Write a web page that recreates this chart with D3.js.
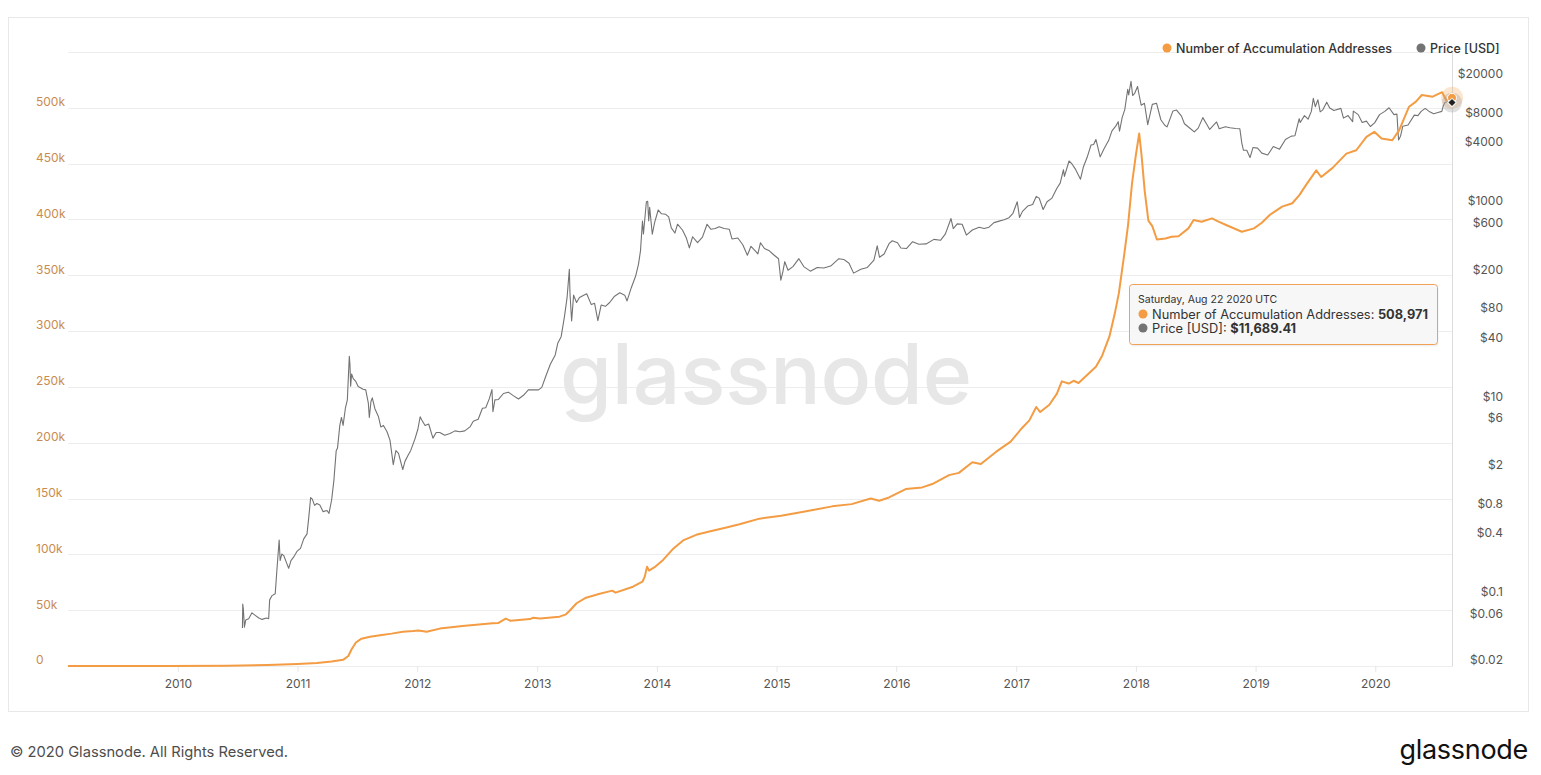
<!DOCTYPE html>
<html>
<head>
<meta charset="utf-8">
<script src="https://cdn.jsdelivr.net/npm/d3@7"></script>
<style>
  body { margin: 0; background: #fff; font-family: Inter, "Noto Sans", sans-serif; }
</style>
</head>
<body>
<div id="canvas"></div>
<script>
// number of accumulation addresses
const accumulation = [
  ["2009-01-31", 0], ["2009-12-01", 0], ["2010-06-01", 200], ["2010-10-01", 800],
  ["2011-01-01", 1800], ["2011-03-01", 2600], ["2011-04-15", 4000], ["2011-05-20", 5500],
  ["2011-06-05", 9000], ["2011-06-15", 15000], ["2011-06-28", 21000], ["2011-07-15", 24500],
  ["2011-08-10", 26200], ["2011-09-10", 27500], ["2011-10-15", 29000], ["2011-11-18", 30700],
  ["2011-12-20", 31300], ["2012-01-05", 31800], ["2012-01-30", 30600], ["2012-03-10", 33500],
  ["2012-05-18", 35800], ["2012-08-18", 38200], ["2012-09-05", 38600], ["2012-09-27", 42500],
  ["2012-10-12", 40500], ["2012-12-10", 42000], ["2012-12-20", 43200], ["2013-01-10", 42500],
  ["2013-03-10", 44200], ["2013-03-28", 46000], ["2013-04-10", 49500], ["2013-05-01", 56200],
  ["2013-05-30", 61200], ["2013-07-08", 64500], ["2013-08-18", 67500], ["2013-08-28", 65700],
  ["2013-10-20", 71000], ["2013-11-18", 75500], ["2013-11-25", 80000], ["2013-12-02", 89000],
  ["2013-12-08", 85500], ["2013-12-25", 88500], ["2014-01-20", 95000], ["2014-02-18", 104500],
  ["2014-03-22", 112500], ["2014-05-01", 117500], ["2014-06-10", 120500], ["2014-08-01", 124000],
  ["2014-09-10", 127000], ["2014-11-10", 132000], ["2015-01-15", 134500], ["2015-03-20", 138000],
  ["2015-06-20", 143000], ["2015-08-18", 145000], ["2015-10-15", 150000], ["2015-11-10", 148000],
  ["2015-12-10", 151000], ["2016-01-30", 158500], ["2016-03-20", 160000], ["2016-04-20", 163000],
  ["2016-06-10", 171000], ["2016-07-10", 173000], ["2016-08-20", 182500], ["2016-09-15", 181000],
  ["2016-11-01", 192000], ["2016-12-15", 201000], ["2017-01-18", 213000], ["2017-02-10", 220000],
  ["2017-03-03", 232000], ["2017-03-15", 227500], ["2017-04-12", 234000], ["2017-05-05", 244000],
  ["2017-05-20", 255000], ["2017-06-10", 253000], ["2017-06-25", 255500], ["2017-07-10", 253500],
  ["2017-08-10", 262000], ["2017-09-01", 268000], ["2017-09-20", 278000], ["2017-10-12", 295000],
  ["2017-10-28", 315000], ["2017-11-10", 334000], ["2017-11-27", 370000], ["2017-12-08", 395000],
  ["2017-12-20", 432000], ["2018-01-01", 458000], ["2018-01-11", 477000], ["2018-01-18", 458000],
  ["2018-01-28", 425000], ["2018-02-08", 399000], ["2018-02-20", 394000], ["2018-03-06", 382000],
  ["2018-04-01", 383000], ["2018-04-20", 384500], ["2018-05-11", 385000], ["2018-06-10", 392000],
  ["2018-06-26", 399500], ["2018-07-20", 398000], ["2018-08-21", 401000], ["2018-09-10", 398000],
  ["2018-10-03", 395000], ["2018-11-20", 389000], ["2018-12-27", 392000], ["2019-01-20", 397000],
  ["2019-02-13", 404000], ["2019-03-23", 411500], ["2019-04-23", 414500], ["2019-05-15", 422000],
  ["2019-06-04", 431000], ["2019-07-05", 444000], ["2019-07-20", 438000], ["2019-08-23", 446000],
  ["2019-10-05", 459000], ["2019-11-04", 462000], ["2019-12-05", 474000], ["2019-12-29", 478500],
  ["2020-01-20", 472500], ["2020-02-22", 471000], ["2020-03-14", 480000], ["2020-04-13", 501000],
  ["2020-05-04", 505500], ["2020-05-22", 511500], ["2020-06-24", 510000], ["2020-07-23", 514000],
  ["2020-08-04", 507000], ["2020-08-22", 508971]
];

// BTC price in USD
const price = [
  ["2010-07-17", 0.049], ["2010-07-18", 0.086], ["2010-07-20", 0.075], ["2010-07-23", 0.05],
  ["2010-07-27", 0.059], ["2010-08-05", 0.061], ["2010-08-15", 0.07], ["2010-08-25", 0.066],
  ["2010-09-05", 0.062], ["2010-09-15", 0.06], ["2010-09-28", 0.062], ["2010-10-05", 0.061],
  ["2010-10-08", 0.095], ["2010-10-15", 0.105], ["2010-10-25", 0.11], ["2010-10-30", 0.19],
  ["2010-11-06", 0.39], ["2010-11-09", 0.24], ["2010-11-14", 0.28], ["2010-11-20", 0.27],
  ["2010-11-28", 0.23], ["2010-12-05", 0.20], ["2010-12-12", 0.24], ["2010-12-20", 0.26],
  ["2010-12-31", 0.30], ["2011-01-10", 0.32], ["2011-01-20", 0.40], ["2011-01-30", 0.45],
  ["2011-02-05", 0.70], ["2011-02-10", 1.06], ["2011-02-15", 1.02], ["2011-02-22", 0.88],
  ["2011-03-01", 0.92], ["2011-03-10", 0.89], ["2011-03-20", 0.76], ["2011-04-01", 0.78],
  ["2011-04-07", 0.73], ["2011-04-15", 1.0], ["2011-04-22", 1.6], ["2011-04-29", 3.2],
  ["2011-05-03", 3.4], ["2011-05-10", 5.8], ["2011-05-15", 7.0], ["2011-05-20", 5.8],
  ["2011-05-27", 8.7], ["2011-06-02", 10.6], ["2011-06-05", 18], ["2011-06-08", 29.6],
  ["2011-06-10", 24], ["2011-06-12", 14.6], ["2011-06-15", 19.5], ["2011-06-20", 17.5],
  ["2011-06-27", 16.5], ["2011-07-05", 14.5], ["2011-07-12", 14.1], ["2011-07-20", 13.6],
  ["2011-07-28", 13.4], ["2011-08-05", 9.8], ["2011-08-08", 7.0], ["2011-08-13", 10.2],
  ["2011-08-17", 11.1], ["2011-08-25", 8.6], ["2011-09-05", 7.1], ["2011-09-12", 5.6],
  ["2011-09-20", 5.8], ["2011-10-01", 5.0], ["2011-10-10", 4.1], ["2011-10-20", 2.3],
  ["2011-10-28", 3.2], ["2011-11-05", 3.0], ["2011-11-18", 2.05], ["2011-11-25", 2.5],
  ["2011-12-05", 2.9], ["2011-12-12", 3.2], ["2011-12-25", 4.2], ["2012-01-03", 5.3],
  ["2012-01-10", 7.1], ["2012-01-15", 6.6], ["2012-01-25", 5.8], ["2012-02-05", 6.0],
  ["2012-02-18", 4.3], ["2012-02-28", 4.9], ["2012-03-10", 4.9], ["2012-03-25", 4.6],
  ["2012-04-10", 4.8], ["2012-04-25", 5.1], ["2012-05-10", 5.0], ["2012-05-25", 5.1],
  ["2012-06-10", 5.6], ["2012-06-20", 6.4], ["2012-07-05", 6.7], ["2012-07-18", 8.7],
  ["2012-07-28", 8.8], ["2012-08-08", 10.9], ["2012-08-16", 13.5], ["2012-08-19", 8.0],
  ["2012-08-25", 10.6], ["2012-09-05", 10.7], ["2012-09-20", 12.3], ["2012-10-05", 12.7],
  ["2012-10-20", 11.7], ["2012-11-05", 10.8], ["2012-11-20", 11.8], ["2012-12-05", 13.4],
  ["2012-12-20", 13.4], ["2013-01-05", 13.4], ["2013-01-15", 14.2], ["2013-01-28", 18.8],
  ["2013-02-10", 24.5], ["2013-02-25", 30.5], ["2013-03-05", 40.5], ["2013-03-15", 47],
  ["2013-03-25", 75], ["2013-04-02", 117], ["2013-04-09", 230], ["2013-04-11", 130],
  ["2013-04-16", 68], ["2013-04-22", 125], ["2013-05-01", 105], ["2013-05-10", 118],
  ["2013-05-20", 123], ["2013-06-01", 129], ["2013-06-15", 100], ["2013-06-25", 103],
  ["2013-07-05", 68.5], ["2013-07-15", 99], ["2013-07-28", 96], ["2013-08-10", 105],
  ["2013-08-25", 122], ["2013-09-10", 132], ["2013-09-25", 125], ["2013-10-02", 109],
  ["2013-10-15", 149], ["2013-10-28", 195], ["2013-11-06", 260], ["2013-11-12", 355],
  ["2013-11-18", 715], ["2013-11-21", 530], ["2013-11-30", 1130], ["2013-12-04", 1140],
  ["2013-12-07", 720], ["2013-12-10", 990], ["2013-12-18", 525], ["2013-12-25", 690],
  ["2014-01-05", 930], ["2014-01-15", 850], ["2014-01-28", 840], ["2014-02-06", 790],
  ["2014-02-14", 610], ["2014-02-25", 540], ["2014-03-05", 665], ["2014-03-20", 580],
  ["2014-04-01", 480], ["2014-04-10", 380], ["2014-04-20", 495], ["2014-05-05", 430],
  ["2014-05-20", 490], ["2014-06-03", 665], ["2014-06-15", 590], ["2014-06-28", 600],
  ["2014-07-10", 625], ["2014-07-25", 600], ["2014-08-10", 590], ["2014-08-18", 470],
  ["2014-09-05", 480], ["2014-09-20", 410], ["2014-10-04", 320], ["2014-10-15", 395],
  ["2014-10-28", 355], ["2014-11-05", 330], ["2014-11-13", 430], ["2014-11-25", 375],
  ["2014-12-10", 355], ["2014-12-25", 320], ["2015-01-07", 295], ["2015-01-14", 178],
  ["2015-01-20", 215], ["2015-01-26", 275], ["2015-02-05", 225], ["2015-02-20", 245],
  ["2015-03-10", 295], ["2015-03-25", 245], ["2015-04-14", 220], ["2015-05-05", 240],
  ["2015-05-25", 237], ["2015-06-15", 248], ["2015-07-10", 295], ["2015-07-25", 290],
  ["2015-08-10", 265], ["2015-08-24", 210], ["2015-09-15", 230], ["2015-10-05", 240],
  ["2015-10-25", 285], ["2015-11-04", 400], ["2015-11-11", 305], ["2015-11-25", 330],
  ["2015-12-10", 420], ["2015-12-20", 450], ["2016-01-05", 430], ["2016-01-15", 380],
  ["2016-02-01", 375], ["2016-02-20", 440], ["2016-03-10", 415], ["2016-04-01", 418],
  ["2016-04-25", 465], ["2016-05-15", 455], ["2016-05-30", 530], ["2016-06-16", 760],
  ["2016-06-23", 600], ["2016-07-05", 670], ["2016-07-20", 665], ["2016-08-02", 515],
  ["2016-08-20", 580], ["2016-09-10", 620], ["2016-09-25", 600], ["2016-10-10", 620],
  ["2016-10-25", 690], ["2016-11-10", 715], ["2016-11-25", 740], ["2016-12-10", 775],
  ["2016-12-22", 860], ["2017-01-04", 1130], ["2017-01-11", 780], ["2017-01-20", 900],
  ["2017-02-05", 1020], ["2017-02-20", 1060], ["2017-03-03", 1280], ["2017-03-12", 1230],
  ["2017-03-24", 940], ["2017-04-05", 1130], ["2017-04-20", 1230], ["2017-05-05", 1550],
  ["2017-05-15", 1750], ["2017-05-25", 2400], ["2017-05-28", 2050], ["2017-06-11", 2950],
  ["2017-06-20", 2750], ["2017-07-01", 2420], ["2017-07-16", 1920], ["2017-07-25", 2580],
  ["2017-08-05", 3200], ["2017-08-17", 4300], ["2017-08-25", 4350], ["2017-09-01", 4900],
  ["2017-09-14", 3250], ["2017-09-25", 3900], ["2017-10-10", 4800], ["2017-10-20", 6000],
  ["2017-11-01", 6750], ["2017-11-08", 7450], ["2017-11-12", 5950], ["2017-11-20", 8200],
  ["2017-11-28", 9900], ["2017-12-07", 16000], ["2017-12-10", 14000], ["2017-12-17", 19300],
  ["2017-12-22", 13800], ["2017-12-28", 14500], ["2018-01-06", 17100], ["2018-01-10", 14400],
  ["2018-01-17", 11000], ["2018-01-27", 11500], ["2018-02-06", 6950], ["2018-02-20", 11200],
  ["2018-03-05", 11500], ["2018-03-18", 7800], ["2018-03-30", 6850], ["2018-04-06", 6600],
  ["2018-04-24", 9600], ["2018-05-05", 9800], ["2018-05-20", 8500], ["2018-05-29", 7100],
  ["2018-06-12", 6500], ["2018-06-28", 5850], ["2018-07-10", 6400], ["2018-07-24", 8200],
  ["2018-08-05", 7000], ["2018-08-14", 6200], ["2018-09-04", 7400], ["2018-09-12", 6300],
  ["2018-10-01", 6600], ["2018-10-15", 6450], ["2018-11-01", 6350], ["2018-11-14", 6300],
  ["2018-11-20", 4500], ["2018-11-25", 3800], ["2018-12-05", 3800], ["2018-12-15", 3200],
  ["2018-12-24", 4050], ["2019-01-07", 4000], ["2019-01-20", 3550], ["2019-02-07", 3400],
  ["2019-02-24", 4150], ["2019-03-15", 3900], ["2019-04-02", 4900], ["2019-04-20", 5300],
  ["2019-05-01", 5350], ["2019-05-14", 8000], ["2019-05-17", 7300], ["2019-05-30", 8600],
  ["2019-06-10", 7900], ["2019-06-20", 9500], ["2019-06-26", 12900], ["2019-07-02", 10600],
  ["2019-07-10", 12500], ["2019-07-17", 9400], ["2019-07-25", 9850], ["2019-08-06", 11800],
  ["2019-08-15", 10300], ["2019-08-28", 9700], ["2019-09-18", 10200], ["2019-09-26", 8100],
  ["2019-10-10", 8600], ["2019-10-24", 7450], ["2019-10-26", 9550], ["2019-11-10", 8800],
  ["2019-11-22", 7300], ["2019-12-05", 7550], ["2019-12-17", 6650], ["2019-12-30", 7250],
  ["2020-01-14", 8800], ["2020-01-30", 9500], ["2020-02-12", 10350], ["2020-02-27", 8800],
  ["2020-03-07", 8900], ["2020-03-12", 4850], ["2020-03-18", 5300], ["2020-03-25", 6700],
  ["2020-04-10", 6900], ["2020-04-29", 8700], ["2020-05-10", 8600], ["2020-05-20", 9500],
  ["2020-06-01", 10200], ["2020-06-15", 9400], ["2020-06-27", 9000], ["2020-07-10", 9250],
  ["2020-07-22", 9500], ["2020-07-27", 11000], ["2020-08-01", 11800], ["2020-08-10", 11900],
  ["2020-08-17", 12300], ["2020-08-22", 11689.41]
];

const addrTicks = [0, 50000, 100000, 150000, 200000, 250000, 300000, 350000, 400000, 450000, 500000, 550000];
const addrLabels = ["0", "50k", "100k", "150k", "200k", "250k", "300k", "350k", "400k", "450k", "500k"];
const priceTicks = [0.02, 0.06, 0.1, 0.4, 0.8, 2, 6, 10, 40, 80, 200, 600, 1000, 4000, 8000, 20000];
const years = [2010, 2011, 2012, 2013, 2014, 2015, 2016, 2017, 2018, 2019, 2020];
const seriesNames = ["Number of Accumulation Addresses", "Price [USD]"];

const width = 1541;
const height = 775;
const margin = { top: 52, left: 68, right: 89, bottom: 109 };
const orange = "#f39c43";
const grey = "#737373";

const parse = d3.utcParse("%Y-%m-%d");
const addr = accumulation.map(d => ({ date: parse(d[0]), value: d[1] }));
const btc = price.map(d => ({ date: parse(d[0]), value: d[1] }));

const svg = d3.select("#canvas").append("svg")
  .attr("width", width)
  .attr("height", height)
  .style("font-family", "Inter, 'Noto Sans', sans-serif");

const x = d3.scaleUtc()
  .domain([addr[0].date, addr[addr.length - 1].date])
  .range([margin.left, width - margin.right]);

const yAddr = d3.scaleLinear()
  .domain([0, 550000])
  .range([height - margin.bottom, margin.top]);

const yPrice = d3.scaleLog()
  .domain([0.02, 38500])
  .range([height - margin.bottom, margin.top]);

// outer panel
svg.append("rect")
  .attr("x", 8.5).attr("y", 17.5)
  .attr("width", 1520).attr("height", 694)
  .attr("fill", "none").attr("stroke", "#e8e8e8");

// grid lines
svg.append("g").selectAll("line").data(addrTicks).join("line")
  .attr("x1", margin.left).attr("x2", width - margin.right)
  .attr("y1", d => Math.round(yAddr(d)) + 0.5)
  .attr("y2", d => Math.round(yAddr(d)) + 0.5)
  .attr("stroke", "#ededed");

// watermark
svg.append("text")
  .attr("x", 766).attr("y", 404)
  .attr("text-anchor", "middle")
  .attr("font-size", 84).attr("font-weight", 500)
  .attr("textLength", 412)
  .attr("fill", "#e7e7e7")
  .text("glassnode");

// left axis
const leftAxis = svg.append("g")
  .attr("transform", `translate(${margin.left},0)`)
  .call(d3.axisLeft(yAddr).tickValues(addrTicks.slice(0, addrLabels.length))
    .tickFormat((d, i) => addrLabels[i]).tickSize(0));
leftAxis.select(".domain").remove();
leftAxis.selectAll("text")
  .attr("x", -32).attr("dy", "-0.18em")
  .attr("text-anchor", "start")
  .attr("fill", "#c98b4f").attr("font-size", 12)
  .style("font-family", "Inter, sans-serif");

// right axis
const rightAxis = svg.append("g")
  .attr("transform", `translate(${width - margin.right},0)`)
  .call(d3.axisRight(yPrice).tickValues(priceTicks)
    .tickFormat(d => "$" + d).tickSize(0).tickSizeOuter(0));
rightAxis.select(".domain").attr("stroke", "#dcdcdc");
rightAxis.selectAll("text")
  .attr("x", 51).attr("dy", "-0.18em")
  .attr("text-anchor", "end")
  .attr("fill", "#555").attr("font-size", 12)
  .style("font-family", "Inter, sans-serif");

// bottom axis
const bottomAxis = svg.append("g")
  .attr("transform", `translate(0,${height - margin.bottom})`)
  .call(d3.axisBottom(x).tickValues(years.map(y => new Date(Date.UTC(y, 0, 1))))
    .tickFormat(d3.utcFormat("%Y")).tickSize(6).tickPadding(7.5));
bottomAxis.select(".domain").remove();
bottomAxis.selectAll("line").attr("stroke", "#e6e6e6");
bottomAxis.selectAll("text")
  .attr("fill", "#555").attr("font-size", 12)
  .style("font-family", "Inter, sans-serif");

// lines
const priceLine = d3.line().x(d => x(d.date)).y(d => yPrice(d.value));
const addrLine = d3.line().x(d => x(d.date)).y(d => yAddr(d.value));

svg.append("path").datum(btc)
  .attr("d", priceLine)
  .attr("fill", "none").attr("stroke", grey).attr("stroke-width", 1.1)
  .attr("stroke-linejoin", "round");

svg.append("path").datum(addr)
  .attr("d", addrLine)
  .attr("fill", "none").attr("stroke", orange).attr("stroke-width", 2)
  .attr("stroke-linejoin", "round");

// hover markers on the last point
const lastA = addr[addr.length - 1];
const lastP = btc[btc.length - 1];
const hx = x(lastA.date);
svg.append("circle").attr("cx", hx).attr("cy", yAddr(lastA.value)).attr("r", 11)
  .attr("fill", orange).attr("opacity", 0.25);
svg.append("circle").attr("cx", hx).attr("cy", yPrice(lastP.value)).attr("r", 10)
  .attr("fill", "#999").attr("opacity", 0.3);
svg.append("circle").attr("cx", hx).attr("cy", yAddr(lastA.value)).attr("r", 4.5)
  .attr("fill", orange).attr("stroke", "#fff").attr("stroke-width", 1);
svg.append("path")
  .attr("transform", `translate(${hx},${yPrice(lastP.value)}) rotate(45)`)
  .attr("d", "M-3,-3H3V3H-3Z")
  .attr("fill", "#222").attr("stroke", "#fff").attr("stroke-width", 1);

// legend
const legend = svg.append("g").attr("font-size", 12.5).attr("font-weight", 500).attr("fill", "#333");
const legendX = [1167, 1421];
[orange, grey].forEach((c, i) => {
  legend.append("circle").attr("cx", legendX[i]).attr("cy", 48).attr("r", 4.5).attr("fill", c);
  legend.append("text").attr("x", legendX[i] + 9).attr("y", 52.5).text(seriesNames[i]);
});

// tooltip
const tip = svg.append("g").attr("transform", "translate(1129.5,284.5)");
tip.append("rect").attr("x", 1).attr("y", 2).attr("width", 308).attr("height", 60).attr("rx", 3)
  .attr("fill", "#000").attr("opacity", 0.06);
tip.append("rect").attr("width", 308).attr("height", 60).attr("rx", 3)
  .attr("fill", "rgba(247,247,247,0.92)").attr("stroke", "#f1a155").attr("stroke-width", 1);
tip.append("text").attr("x", 8.5).attr("y", 18).attr("font-size", 10.5).attr("fill", "#333")
  .text(d3.utcFormat("%A, %b %d %Y")(lastA.date) + " UTC");
const rows = [
  { c: orange, label: seriesNames[0] + ": ", val: d3.format(",")(lastA.value) },
  { c: grey, label: seriesNames[1] + ": ", val: d3.format("$,.2f")(lastP.value) }
];
rows.forEach((r, i) => {
  tip.append("circle").attr("cx", 13.5).attr("cy", 29.5 + i * 14).attr("r", 4.5).attr("fill", r.c);
  const t = tip.append("text").attr("x", 22.5).attr("y", 34 + i * 14)
    .attr("font-size", 12.8).attr("fill", "#333");
  t.append("tspan").text(r.label);
  t.append("tspan").attr("font-weight", 700).text(r.val);
});

// footer
svg.append("text").attr("x", 10).attr("y", 757)
  .attr("font-size", 14.7).attr("fill", "#4d4d4d")
  .text("© 2020 Glassnode. All Rights Reserved.");
svg.append("text").attr("x", 1528).attr("y", 759)
  .attr("text-anchor", "end").attr("font-size", 27).attr("font-weight", 400)
  .attr("fill", "#111").attr("letter-spacing", -0.3)
  .text("glassnode");
</script>
</body>
</html>
